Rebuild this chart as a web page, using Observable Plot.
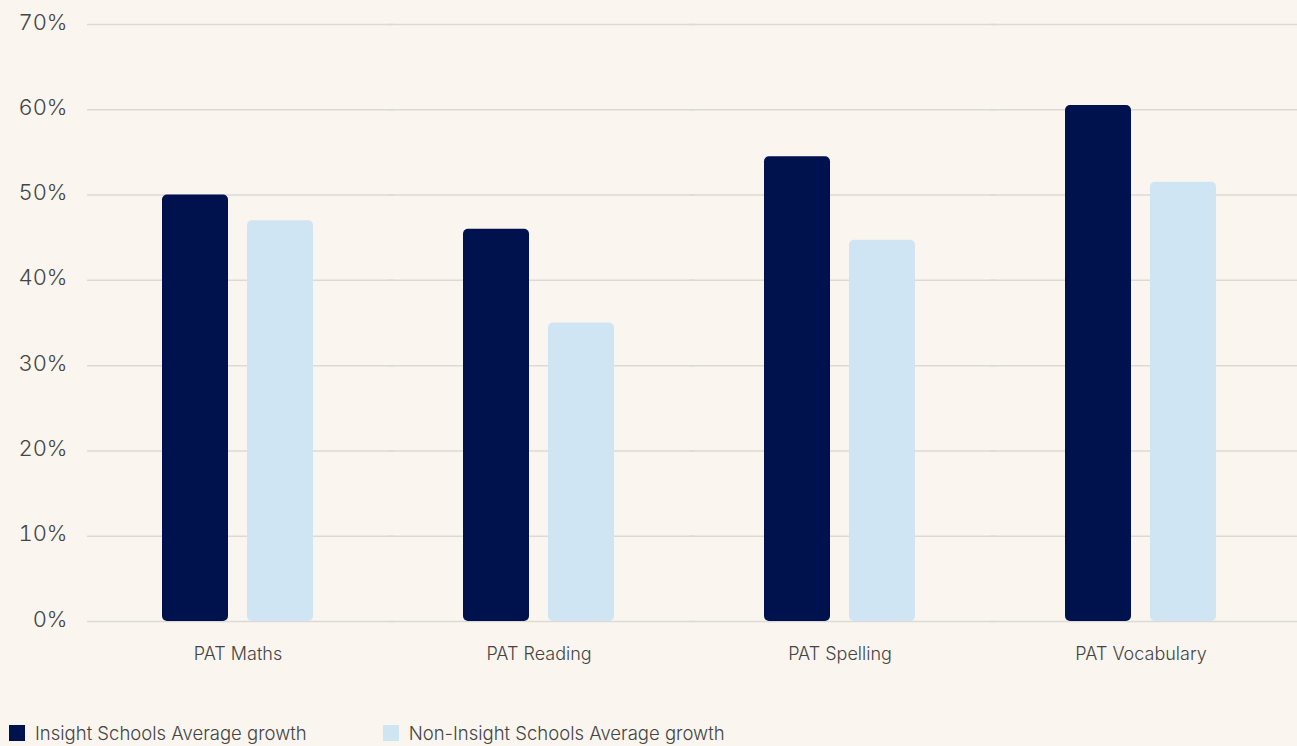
<!DOCTYPE html>
<html>
<head>
<meta charset="utf-8">
<script src="https://cdn.jsdelivr.net/npm/d3@7"></script>
<script src="https://cdn.jsdelivr.net/npm/@observablehq/plot@0.6"></script>
<style>
  html, body { margin: 0; padding: 0; background: #faf6ef; }
  body { width: 1297px; height: 746px; overflow: hidden; font-family: Inter, "Open Sans", sans-serif; font-weight: 300; }
  #legend { position: absolute; top: 722px; left: 9px; display: flex; font-size: 18.5px; color: #444; }
  .item { display: flex; align-items: center; }
  .sw { width: 16px; height: 16px; margin-right: 10px; }
</style>
</head>
<body>
<div id="chart"></div>
<div id="legend"></div>
<script>
const categories = ["PAT Maths", "PAT Reading", "PAT Spelling", "PAT Vocabulary"];
const seriesNames = ["Insight Schools Average growth", "Non-Insight Schools Average growth"];
const insightValues = [0.50, 0.46, 0.545, 0.605];
const nonInsightValues = [0.47, 0.35, 0.447, 0.515];
const yTicks = [0, 0.1, 0.2, 0.3, 0.4, 0.5, 0.6, 0.7];
const colors = ["#00124e", "#cfe5f3"];

const data = [];
categories.forEach((c, i) => {
  data.push({category: c, series: seriesNames[0], value: insightValues[i]});
  data.push({category: c, series: seriesNames[1], value: nonInsightValues[i]});
});

const chart = Plot.plot({
  width: 1297,
  height: 690,
  marginTop: 24,
  marginBottom: 69,
  marginLeft: 86,
  marginRight: 6,
  style: {background: "transparent", fontFamily: "Inter, sans-serif", fontWeight: 300, color: "#444", overflow: "visible"},
  fx: {domain: categories, padding: 0, label: null, axis: null},
  x: {domain: seriesNames, axis: null, paddingInner: 0.22, paddingOuter: 0.87},
  y: {domain: [0, 0.7], label: null, axis: null},
  color: {domain: seriesNames, range: colors},
  marks: [
    Plot.ruleY(yTicks, {stroke: "#dcdad6", strokeWidth: 1.5, insetRight: -6}),
    Plot.barY(data, {fx: "category", x: "series", y: "value", fill: "series", rx: 5, ry: 5}),
    Plot.axisY({ticks: yTicks, tickFormat: d3.format(".0%"), tickSize: 0, tickPadding: 20, dy: -2, fontSize: 22, fill: "#444", label: null}),
    Plot.axisFx({anchor: "bottom", tickSize: 0, tickPadding: 26, fontSize: 18, fill: "#444", label: null})
  ]
});
document.getElementById("chart").appendChild(chart);

const legend = document.getElementById("legend");
seriesNames.forEach((s, i) => {
  const it = document.createElement("div");
  it.className = "item";
  it.style.marginRight = i === 0 ? "76px" : "0";
  const sw = document.createElement("div");
  sw.className = "sw";
  sw.style.background = colors[i];
  const t = document.createElement("span");
  t.textContent = s;
  it.appendChild(sw);
  it.appendChild(t);
  legend.appendChild(it);
});
</script>
</body>
</html>
